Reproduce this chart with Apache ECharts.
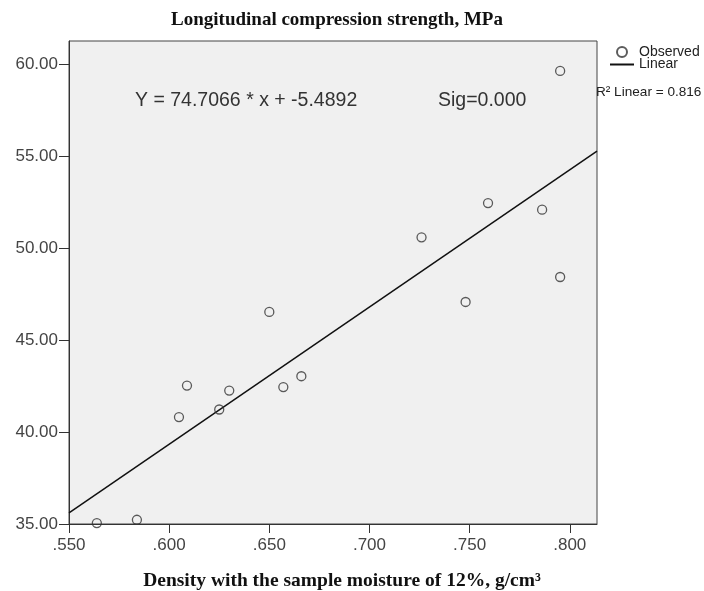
<!DOCTYPE html>
<html>
<head>
<meta charset="utf-8">
<script src="https://cdn.jsdelivr.net/npm/echarts@6/dist/echarts.min.js"></script>
<style>
  html, body { margin: 0; padding: 0; background: #fff; }
  #chart { width: 704px; height: 591px; }
</style>
</head>
<body>
<div id="chart"></div>
<script>
// observed points (density g/cm3, strength MPa)
var densityX = [0.5639, 0.5839, 0.6049, 0.6089, 0.6250, 0.6300, 0.6500, 0.6570, 0.6660,
                0.7260, 0.7480, 0.7592, 0.7862, 0.7952, 0.7952];
var strengthY = [35.05, 35.23, 40.82, 42.53, 41.23, 42.26, 46.54, 42.45, 43.04,
                 50.60, 47.08, 52.46, 52.10, 59.65, 48.44];
// fitted line end points (left and right edge of the plot)
var fitX = [0.55, 0.8136];
var fitY = [35.60, 55.29];
var xTicks = [0.55, 0.60, 0.65, 0.70, 0.75, 0.80];
var yTicks = [35, 40, 45, 50, 55, 60];

var myChart = echarts.init(document.getElementById('chart'));

var observed = [];
for (var i = 0; i < densityX.length; i++) {
	observed.push([densityX[i], strengthY[i]]);
}
var fit = [];
for (var j = 0; j < fitX.length; j++) {
	fit.push([fitX[j], fitY[j]]);
}

var option = {
	animation : false,
	title : {
		text : 'Longitudinal compression strength, MPa',
		left : 332,
		top : 6,
		textAlign : 'center',
		textStyle : {
			fontFamily : 'Liberation Serif',
			fontWeight : 'bold',
			fontSize : 19,
			color : '#111'
		}
	},
	legend : {
		orient : 'vertical',
		left : 609,
		top : 45,
		itemWidth : 24,
		itemHeight : 10,
		itemGap : -1.5,
		padding : 0,
		textStyle : {
			fontFamily : 'Liberation Sans',
			fontSize : 14,
			color : '#222'
		},
		data : [ 'Observed', {
			name : 'Linear',
			itemStyle : { opacity : 0 }
		} ]
	},
	grid : {
		left : 69,
		top : 41,
		right : 107,
		bottom : 67,
		outerBoundsMode : 'none',
		show : true,
		backgroundColor : '#f0f0f0',
		borderColor : '#444',
		borderWidth : 1
	},
	xAxis : {
		type : 'value',
		min : 0.55,
		max : 0.8136,
		name : 'Density with the sample moisture of 12%, g/cm³',
		nameLocation : 'middle',
		nameGap : 47,
		nameTextStyle : {
			fontFamily : 'Liberation Serif',
			fontWeight : 'bold',
			fontSize : 19.5,
			color : '#111',
			padding : [ 0, 0, 0, 18 ]
		},
		splitLine : { show : false },
		axisLine : { lineStyle : { color : '#333' } },
		axisTick : {
			show : true,
			length : 9,
			customValues : xTicks,
			lineStyle : { color : '#333', width : 1 }
		},
		axisLabel : {
			customValues : xTicks,
			margin : 13,
			fontFamily : 'Liberation Sans',
			fontSize : 17,
			color : '#444',
			formatter : function(v) {
				return v.toFixed(3).replace(/^0/, '');
			}
		}
	},
	yAxis : {
		type : 'value',
		min : 35,
		max : 61.28,
		splitLine : { show : false },
		axisLine : { lineStyle : { color : '#333' } },
		axisTick : {
			show : true,
			length : 10,
			customValues : yTicks,
			lineStyle : { color : '#333', width : 1 }
		},
		axisLabel : {
			customValues : yTicks,
			margin : 11,
			fontFamily : 'Liberation Sans',
			fontSize : 17,
			color : '#444',
			formatter : function(v) {
				return v.toFixed(2);
			}
		}
	},
	graphic : [ {
		type : 'text',
		left : 135,
		top : 91,
		style : {
			text : 'Y = 74.7066 * x + -5.4892',
			fontFamily : 'Liberation Sans',
			fontSize : 19.5,
			fill : '#333'
		}
	}, {
		type : 'text',
		left : 438,
		top : 91,
		style : {
			text : 'Sig=0.000',
			fontFamily : 'Liberation Sans',
			fontSize : 19.5,
			fill : '#333'
		}
	}, {
		type : 'text',
		left : 596,
		top : 85,
		z : 100,
		style : {
			text : 'R² Linear = 0.816',
			fontFamily : 'Liberation Sans',
			fontSize : 13.6,
			fill : '#222'
		}
	} ],
	series : [ {
		name : 'Observed',
		type : 'scatter',
		symbol : 'circle',
		symbolSize : 9,
		z : 3,
		itemStyle : {
			color : 'rgba(0,0,0,0)',
			borderColor : '#333',
			borderWidth : 1.3
		},
		data : observed
	}, {
		name : 'Linear',
		type : 'line',
		symbol : 'none',
		z : 2,
		lineStyle : { color : '#111', width : 1.5 },
		itemStyle : { color : '#111' },
		data : fit
	} ]
};
myChart.setOption(option);
</script>
</body>
</html>
